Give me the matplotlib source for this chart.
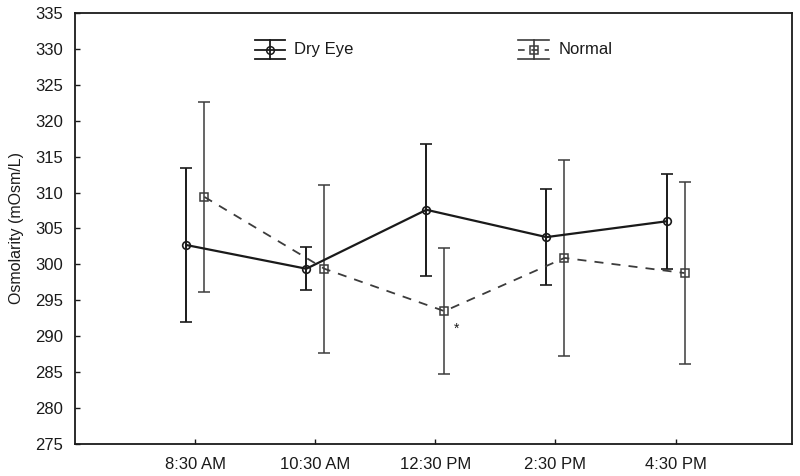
import matplotlib
matplotlib.use("Agg")
import matplotlib.pyplot as plt
import numpy as np

plt.rcParams['font.family'] = ['Liberation Sans', 'DejaVu Sans']

times = ["8:30 AM", "10:30 AM", "12:30 PM", "2:30 PM", "4:30 PM"]
dry_mean = [302.7, 299.4, 307.6, 303.8, 306.0]
dry_err = [10.65, 3.0, 9.2, 6.7, 6.6]
normal_mean = [309.4, 299.4, 293.5, 300.9, 298.8]
normal_err = [13.2, 11.7, 8.8, 13.6, 12.6]
yticks = list(range(275, 336, 5))

fig = plt.figure(figsize=(8.0, 4.76), dpi=100)
ax = fig.add_axes([0.094, 0.067, 0.896, 0.906])

x = np.arange(1, len(times) + 1)
off = 0.075

dark = '#1a1a1a'
gray = '#3c3c3c'

ax.errorbar(x - off, dry_mean, yerr=dry_err, color=dark, lw=1.6, elinewidth=1.4,
            capsize=4.3, capthick=1.4, marker='o', ms=5.5, mfc='none', mec=dark, mew=1.2,
            zorder=3)
ax.errorbar(x + off, normal_mean, yerr=normal_err, color=gray, lw=1.3, elinewidth=1.1,
            capsize=4.0, capthick=1.1, marker='s', ms=5.5, mfc='none', mec=gray, mew=1.1,
            ls=(0, (5, 4.5)), zorder=3)

ax.annotate('*', xy=(x[2] + off, normal_mean[2]), xytext=(9, -13), textcoords='offset points',
            fontsize=10, color=dark, ha='center', va='center')

ax.set_xlim(0, 5.97)
ax.set_ylim(275, 335)
ax.set_xticks(x)
ax.set_xticklabels(times)
ax.set_yticks(yticks)
ax.tick_params(direction='in', length=3.5, width=1, colors=dark, labelsize=12, pad=9)
for s in ax.spines.values():
    s.set_linewidth(1.3)
    s.set_color(dark)
ax.set_ylabel('Osmolarity (mOsm/L)', fontsize=11.5, color=dark, labelpad=8)

# legend drawn in axes coordinates
tr = ax.transAxes
def legend_symbol(x0, x1, yc, dy, color, lw, marker, ls):
    xm = (x0 + x1) / 2
    ax.plot([x0, x1], [yc + dy, yc + dy], color=color, lw=lw, transform=tr, clip_on=False)
    ax.plot([x0, x1], [yc - dy, yc - dy], color=color, lw=lw, transform=tr, clip_on=False)
    ax.plot([xm, xm], [yc - dy, yc + dy], color=color, lw=lw, transform=tr, clip_on=False)
    ax.plot([x0, x1], [yc, yc], color=color, lw=lw, ls=ls, transform=tr, clip_on=False)
    ax.plot([xm], [yc], marker=marker, ms=5.5, mfc='none', mec=color, mew=1.1,
            transform=tr, clip_on=False, ls='none')

legend_symbol(0.251, 0.293, 0.914, 0.022, dark, 1.3, 'o', '-')
ax.text(0.305, 0.914, 'Dry Eye', transform=tr, fontsize=12, va='center', ha='left', color=dark)
legend_symbol(0.618, 0.661, 0.914, 0.022, gray, 1.2, 's', (0, (4, 4)))
ax.text(0.674, 0.914, 'Normal', transform=tr, fontsize=12, va='center', ha='left', color=dark)

fig.savefig('out.png', dpi=100)
